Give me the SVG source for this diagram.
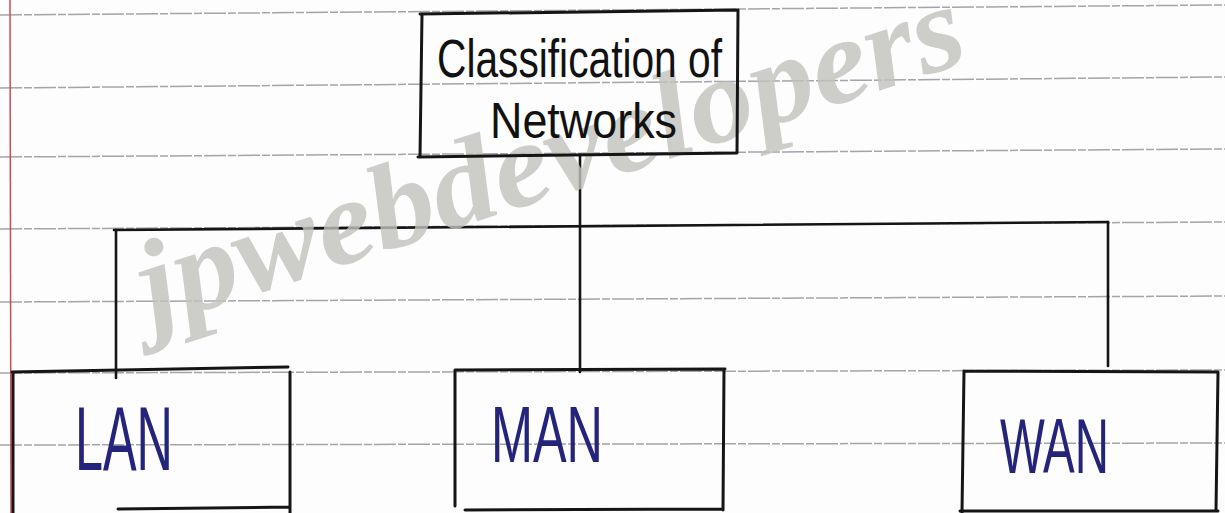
<svg xmlns="http://www.w3.org/2000/svg" width="1225" height="513" viewBox="0 0 1225 513">
<style>
.rule{stroke:#7d7d88;stroke-width:1.5;stroke-dasharray:22 2 8 2;fill:none;opacity:0.7}
.margin{stroke:#d0485e;stroke-width:1.5;fill:none}
.box{stroke:#151515;stroke-width:3;fill:none;stroke-linecap:round;stroke-linejoin:round}
.conn{stroke:#151515;stroke-width:2.6;fill:none;stroke-linecap:round}
.title{font-family:"Liberation Sans",Arial,sans-serif;fill:#111;font-weight:normal}
.label{font-family:"Liberation Sans",Arial,sans-serif;fill:#24247a}
.wm{font-family:"Liberation Serif","Times New Roman",serif;font-weight:bold;font-style:italic;fill:#c2c2bd;opacity:0.8}
</style>
<rect x="0" y="0" width="1225" height="513" fill="#fdfdfd"/>
<g id="paper">
<line class="rule" x1="0" y1="15" x2="1225" y2="5"/>
<line class="rule" x1="0" y1="88" x2="1225" y2="77"/>
<line class="rule" x1="0" y1="157" x2="1225" y2="149"/>
<line class="rule" x1="0" y1="229" x2="1225" y2="222"/>
<line class="rule" x1="0" y1="302" x2="1225" y2="296"/>
<line class="rule" x1="0" y1="373" x2="1225" y2="370"/>
<line class="rule" x1="0" y1="445" x2="1225" y2="443"/>
<line class="margin" x1="10" y1="0" x2="11" y2="513"/>
</g>
<g id="connectors">
<path class="conn" d="M580,155 L580,372"/>
<path class="conn" d="M114,230 L1108,222"/>
<path class="conn" d="M116,230 L116,378"/>
<path class="conn" d="M1108,222 L1108,366"/>
</g>
<g id="watermark">
<text class="wm" transform="translate(152,327) rotate(-18)" font-size="122" textLength="862" lengthAdjust="spacingAndGlyphs">jpwebdevelopers</text>
</g>
<g id="root">
<path class="box" d="M420,14 L738,10 L737,153 L418,157 M422,14 L420,157"/>
<text class="title" x="437" y="77" font-size="54" textLength="285" lengthAdjust="spacingAndGlyphs">Classification of</text>
<text class="title" x="490" y="138" font-size="50" textLength="187" lengthAdjust="spacingAndGlyphs">Networks</text>
</g>
<g id="lan">
<path class="box" d="M12,372 L288,367 M13,372 L13,513 M290,372 L290,513 M118,509 L290,507"/>
<text class="label" x="75" y="470" font-size="90" textLength="98" lengthAdjust="spacingAndGlyphs">LAN</text>
</g>
<g id="man">
<path class="box" d="M455,370 L725,369 M455,370 L455,506 M724,370 L723,510 M465,510 L723,509"/>
<text class="label" x="491" y="462" font-size="80" textLength="112" lengthAdjust="spacingAndGlyphs">MAN</text>
</g>
<g id="wan">
<path class="box" d="M964,371 L1218,372 M964,371 L962,513 M1218,372 L1216,510 M960,511 L1218,511"/>
<text class="label" x="1000" y="473" font-size="77" textLength="109" lengthAdjust="spacingAndGlyphs">WAN</text>
</g>
</svg>
